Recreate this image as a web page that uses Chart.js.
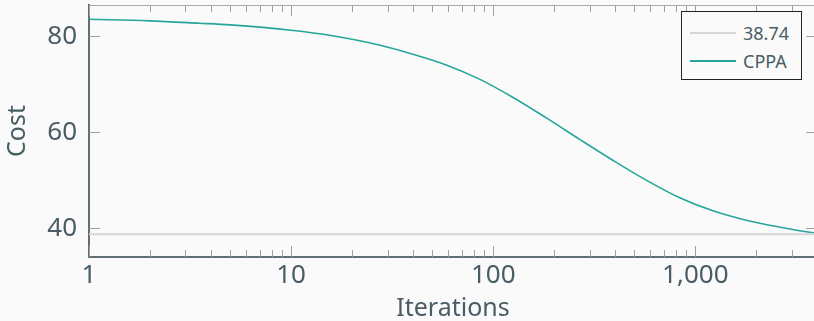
<!DOCTYPE html>
<html>
<head>
<meta charset="utf-8">
<script src="https://cdn.jsdelivr.net/npm/chart.js@4.4.1/dist/chart.umd.min.js"></script>
<style>
  html, body { margin: 0; padding: 0; background: #fafafa; overflow: hidden; }
  #wrap { position: relative; width: 818px; height: 321px; }
  #legend {
    position: absolute; left: 681px; top: 11px; width: 121px; height: 69px;
    border: 1.5px solid #222; background: #fafafa; box-sizing: border-box;
    font-family: "Noto Sans", sans-serif; font-size: 18px; color: #4a5c64;
  }
  #legend .row { position: absolute; left: 8px; height: 24px; display: flex; align-items: center; }
  #legend .swatch { width: 46px; height: 2px; margin-right: 7px; }
</style>
</head>
<body>
<div id="wrap">
  <canvas id="costChart" width="818" height="321"></canvas>
  <div id="legend"></div>
</div>
<script>
// iterations vs cost (log x axis)
const iterations = [1, 2, 3.5, 5, 10, 16, 27.6, 40, 59, 86, 126, 184, 270, 394, 577, 843, 1233, 1803, 2636, 3852, 4000];
const cppaCost   = [83.54, 83.2, 82.7, 82.35, 81.25, 80.1, 78.12, 76.25, 73.96, 71.0, 67.18, 62.92, 58.41, 54.06, 49.91, 46.28, 43.56, 41.61, 40.21, 39.05, 38.99];
const baseLevel = 38.74;
const baseX = [1, 4000];
const xMajorTicks = [1, 10, 100, 1000];
const yTicks = [40, 60, 80];

const textColor = "#4a5c64";
const fontFamily = "'Noto Sans', sans-serif";

// ----------------------------
// inward tick marks + frame
// ----------------------------
const frameTicks = {
  id: "frameTicks",
  afterDatasetsDraw(chart) {
    const { ctx, chartArea: a, scales } = chart;
    const xs = scales.x, ys = scales.y;
    ctx.save();
    // top + right frame (light)
    ctx.strokeStyle = "#a8adb0";
    ctx.lineWidth = 1;
    ctx.beginPath();
    ctx.moveTo(a.left, a.top + 0.5);
    ctx.lineTo(a.right, a.top + 0.5);
    ctx.moveTo(a.right - 0.5, a.top);
    ctx.lineTo(a.right - 0.5, a.bottom);
    ctx.stroke();

    ctx.strokeStyle = "#9aa0a3";
    ctx.beginPath();
    for (let e = 0; e <= 3; e++) {
      for (let m = 1; m <= 9; m++) {
        const v = m * Math.pow(10, e);
        if (v > xs.max) break;
        const px = Math.round(xs.getPixelForValue(v)) + 0.5;
        const len = m === 1 ? 11 : 7;
        ctx.moveTo(px, a.bottom);
        ctx.lineTo(px, a.bottom - len);
        ctx.moveTo(px, a.top);
        ctx.lineTo(px, a.top + len);
      }
    }
    yTicks.forEach(v => {
      const py = Math.round(ys.getPixelForValue(v)) + 0.5;
      ctx.moveTo(a.left, py);
      ctx.lineTo(a.left + 11, py);
      ctx.moveTo(a.right, py);
      ctx.lineTo(a.right - 11, py);
    });
    ctx.stroke();
    ctx.restore();
  }
};

const ctx = document.getElementById("costChart").getContext("2d");
const chart = new Chart(ctx, {
  type: "line",
  data: {
    datasets: [
      {
        label: String(baseLevel),
        data: baseX.map(x => ({ x: x, y: baseLevel })),
        borderColor: "#d6d6d6",
        borderWidth: 2,
        pointRadius: 0
      },
      {
        label: "CPPA",
        data: iterations.map((x, i) => ({ x: x, y: cppaCost[i] })),
        borderColor: "#26a69a",
        borderWidth: 1.6,
        pointRadius: 0,
        cubicInterpolationMode: "monotone"
      }
    ]
  },
  options: {
    responsive: false,
    animation: false,
    layout: { padding: { top: 5, right: 1, left: 0, bottom: 0 } },
    plugins: { legend: { display: false }, tooltip: { enabled: false } },
    scales: {
      x: {
        type: "logarithmic",
        min: 1,
        max: 4000,
        afterFit: s => { s.height = 64; s.paddingLeft = 0; s.paddingRight = 0; },
        afterBuildTicks: s => { s.ticks = xMajorTicks.map(v => ({ value: v, major: true })); },
        grid: { display: false, drawTicks: false },
        border: { display: true, color: "#5f6f75", width: 2 },
        ticks: {
          padding: 3,
          maxRotation: 0,
          autoSkip: false,
          color: textColor,
          font: { family: fontFamily, size: 26 },
          callback: v => Number(v).toLocaleString("en-US")
        },
        title: {
          display: true,
          text: "Iterations",
          color: textColor,
          padding: 0,
          font: { family: fontFamily, size: 25, lineHeight: 1.0 }
        }
      },
      y: {
        min: 34,
        max: 86.5,
        afterFit: s => { s.width = 89; s.paddingTop = 0; s.paddingBottom = 0; },
        afterBuildTicks: s => { s.ticks = yTicks.map(v => ({ value: v })); },
        grid: { display: false, drawTicks: false },
        border: { display: true, color: "#5f6f75", width: 2 },
        ticks: {
          padding: 12,
          color: textColor,
          font: { family: fontFamily, size: 26 }
        },
        title: {
          display: true,
          text: "Cost",
          color: textColor,
          padding: { top: 3, bottom: 0 },
          font: { family: fontFamily, size: 25, lineHeight: 1.2 }
        }
      }
    }
  },
  plugins: [frameTicks]
});

// legend box drawn as html over the plot
const legendEl = document.getElementById("legend");
chart.data.datasets.forEach((ds, i) => {
  const row = document.createElement("div");
  row.className = "row";
  row.style.top = (9 + i * 28) + "px";
  row.innerHTML = `<span class="swatch" style="background:${ds.borderColor}"></span><span>${ds.label}</span>`;
  legendEl.appendChild(row);
});
</script>
</body>
</html>
